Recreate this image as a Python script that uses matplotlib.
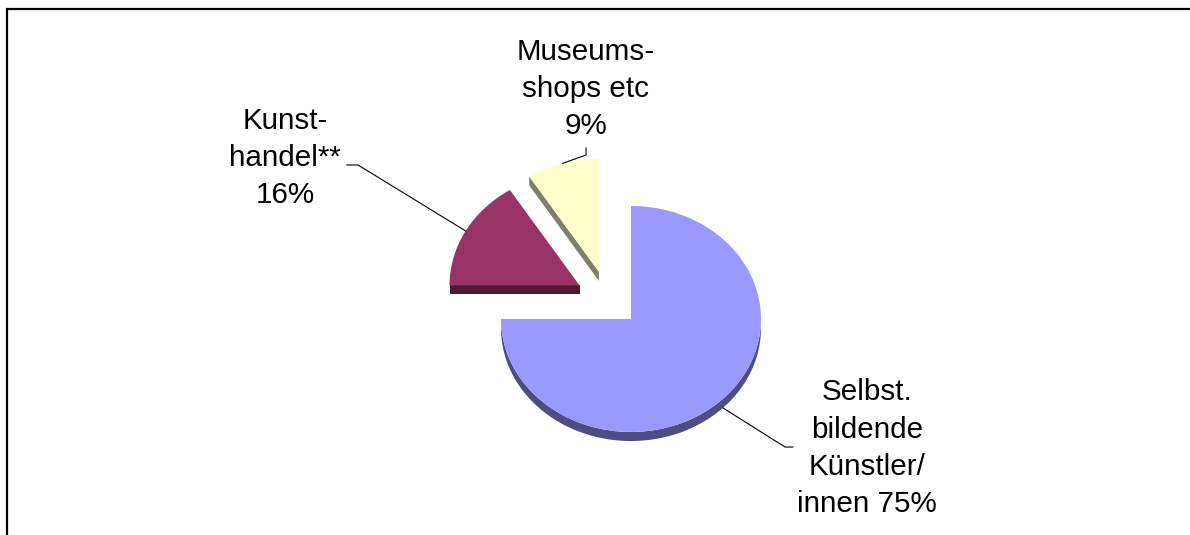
import numpy as np
import matplotlib.pyplot as plt
from matplotlib.patches import Polygon
from matplotlib.lines import Line2D

plt.rcParams["font.family"] = ["Liberation Sans", "DejaVu Sans"]

# Anteile am Umsatz
labels = ["Selbst.\nbildende\nKünstler/\ninnen 75%", "Kunst-\nhandel**\n16%", "Museums-\nshops etc\n9%"]
shares = [75, 16, 9]
top_colors = ["#9999FF", "#993366", "#FFFFCC"]
side_colors = ["#4D4D80", "#4D1A33", "#80806A"]

# label centres and leader elbows (pie units)
label_pos = [(1.99, -1.32), (-2.485, 1.25), (-0.17, 1.86)]
elbows = [
    [(1.423, -1.31), (1.362, -1.31)],
    [(-2.008, 1.186), (-1.923, 1.186)],
    [(-0.169, 1.336), (-0.169, 1.274)],
]

depth = 0.08   # thickness of the 3d pie

fig = plt.figure(figsize=(11.9, 5.35), dpi=100)
ax = fig.add_axes([0, 0, 1, 1])

wedges, _ = ax.pie(shares, colors=top_colors, startangle=90, counterclock=False,
                   explode=[0.25] * 3, radius=1, wedgeprops=dict(linewidth=0))


def runs(mask):
    idx = np.flatnonzero(mask)
    if len(idx) == 0:
        return []
    splits = np.where(np.diff(idx) > 1)[0] + 1
    return np.split(idx, splits)


# side faces of the slices
for w, col in zip(wedges, side_colors):
    cx, cy = w.center
    r = w.r
    t1, t2 = w.theta1, w.theta2
    th = np.radians(np.linspace(t1, t2, 400))
    for seg in runs(np.sin(th) <= 1e-9):
        xs = cx + r * np.cos(th[seg])
        ys = cy + r * np.sin(th[seg])
        pts = np.column_stack([np.r_[xs, xs[::-1]], np.r_[ys, ys[::-1] - depth]])
        ax.add_patch(Polygon(pts, closed=True, facecolor=col, edgecolor="none", zorder=0.5))
    for phi, visible in ((t1, np.cos(np.radians(t1)) > 1e-6), (t2, np.cos(np.radians(t2)) < -1e-6)):
        if not visible:
            continue
        ex = cx + r * np.cos(np.radians(phi))
        ey = cy + r * np.sin(np.radians(phi))
        pts = [(cx, cy), (ex, ey), (ex, ey - depth), (cx, cy - depth)]
        ax.add_patch(Polygon(pts, closed=True, facecolor=col, edgecolor="none", zorder=0.5))

# labels with leader lines
for w, lab, pos, elb in zip(wedges, labels, label_pos, elbows):
    mid = np.radians((w.theta1 + w.theta2) / 2)
    px = w.center[0] + w.r * np.cos(mid)
    py = w.center[1] + w.r * np.sin(mid)
    if np.sin(mid) < 0:
        py -= depth
    xs = [p[0] for p in elb] + [px]
    ys = [p[1] for p in elb] + [py]
    ax.plot(xs, ys, color="black", lw=0.8, zorder=3)
    ax.text(pos[0], pos[1], lab, ha="center", va="center", multialignment="center",
            fontsize=21.3, linespacing=1.42, color="black")

ax.set_aspect("auto")
ax.set_xlim(-608 / 130, (1190 - 608) / 130)
ax.set_ylim((299 - 535) / 113, 299 / 113)
ax.axis("off")

# chart frame
fx, fy = 7 / 1190, 1 - 9 / 535
fig.add_artist(Line2D([fx, fx, 1], [0, fy, fy], transform=fig.transFigure,
                      color="black", lw=1.6, solid_joinstyle="miter"))

fig.savefig("out.png", dpi=100)
